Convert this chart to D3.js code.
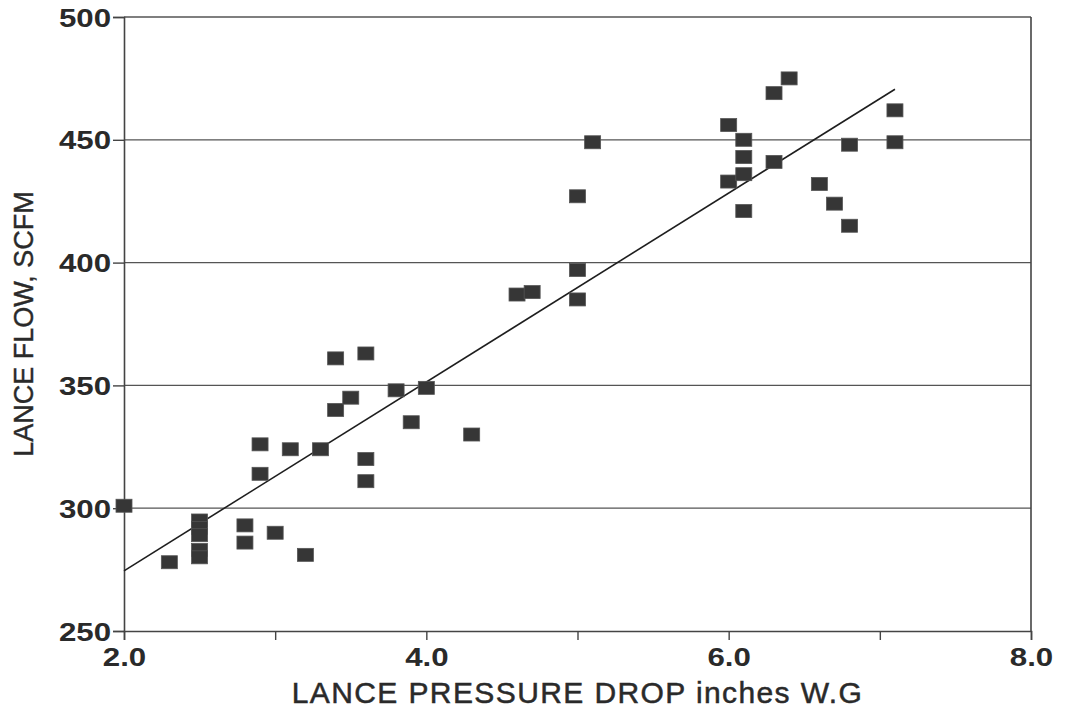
<!DOCTYPE html>
<html>
<head>
<meta charset="utf-8">
<script src="https://cdn.jsdelivr.net/npm/d3@7"></script>
<style>
  html, body { margin: 0; padding: 0; background: #fff; }
  svg { display: block; font-family: "Liberation Sans", Arial, sans-serif; }
</style>
</head>
<body>
<svg id="chart" width="1065" height="710"></svg>
<script>
// lance pressure drop (inches W.G) vs lance flow (SCFM)
const dropX = [2.0, 2.3, 2.5, 2.5, 2.5, 2.5, 2.5, 2.8, 2.8, 2.9, 2.9, 3.0, 3.1, 3.2, 3.3,
  3.4, 3.4, 3.5, 3.6, 3.6, 3.6, 3.8, 3.9, 4.0, 4.3, 4.6, 4.7, 5.0, 5.0, 5.0, 5.1,
  6.0, 6.0, 6.1, 6.1, 6.1, 6.1, 6.3, 6.3, 6.4, 6.6, 6.7, 6.8, 6.8, 7.1, 7.1];
const flowY = [301, 278, 295, 292, 289, 283, 280, 293, 286, 326, 314, 290, 324, 281, 324,
  361, 340, 345, 363, 320, 311, 348, 335, 349, 330, 387, 388, 427, 397, 385, 449,
  456, 433, 450, 443, 436, 421, 469, 441, 475, 432, 424, 448, 415, 462, 449];

// fitted line end points
const fitX = [2.0, 7.1];
const fitY = [274.5, 470.6];

const xTicks = [2, 3, 4, 5, 6, 7, 8];
const xLabelled = [2, 4, 6, 8];
const yTicks = [250, 300, 350, 400, 450, 500];

const pLeft = 124, pRight = 1031, pTop = 17, pBottom = 631;
const stretch = 1.25; // the scanned lettering is wide

const svg = d3.select("#chart");

const x = d3.scaleLinear().domain([2, 8]).range([pLeft, pRight]);
const y = d3.scaleLinear().domain([250, 500]).range([pBottom, pTop]);

/* ---- grid ---- */
svg.append("g")
  .selectAll("line")
  .data(yTicks.filter(d => d > 250))
  .join("line")
  .attr("x1", pLeft).attr("x2", pRight)
  .attr("y1", d => y(d)).attr("y2", d => y(d))
  .attr("stroke", "#555")
  .attr("stroke-width", 1.3);

// right border
svg.append("line")
  .attr("x1", pRight).attr("x2", pRight)
  .attr("y1", pTop).attr("y2", pBottom)
  .attr("stroke", "#444")
  .attr("stroke-width", 1.6);

/* ---- axes ---- */
const yAxis = svg.append("g")
  .attr("transform", `translate(${pLeft},0)`)
  .call(d3.axisLeft(y).tickValues(yTicks).tickSize(11).tickPadding(2).tickFormat(d3.format("d")));

const xAxis = svg.append("g")
  .attr("transform", `translate(0,${pBottom})`)
  .call(d3.axisBottom(x).tickValues(xTicks).tickSize(9).tickPadding(8)
    .tickFormat(d => xLabelled.includes(d) ? d3.format(".1f")(d) : ""));

[yAxis, xAxis].forEach(g => {
  g.select(".domain").attr("stroke", "#444").attr("stroke-width", 1.6);
  g.selectAll(".tick line").attr("stroke", "#444").attr("stroke-width", 1.4);
  g.selectAll(".tick text")
    .attr("fill", "#2a2a2a")
    .attr("transform", `scale(${stretch},1)`)
    .style("font-size", "25px")
    .style("font-weight", "bold")
    .style("font-family", "'Liberation Sans', Arial, sans-serif");
});
xAxis.selectAll(".tick text").attr("dy", "0.72em");
yAxis.selectAll(".tick text").attr("dy", "0.36em").attr("x", -13 / stretch);

/* ---- fit line ---- */
svg.append("line")
  .attr("x1", x(fitX[0])).attr("y1", y(fitY[0]))
  .attr("x2", x(fitX[1])).attr("y2", y(fitY[1]))
  .attr("stroke", "#1e1e1e")
  .attr("stroke-width", 1.6);

/* ---- points ---- */
const pts = dropX.map((d, i) => ({ x: d, y: flowY[i] }));
const mw = 16, mh = 13;
svg.append("g")
  .selectAll("rect")
  .data(pts)
  .join("rect")
  .attr("x", d => x(d.x) - mw / 2)
  .attr("y", d => y(d.y) - mh / 2)
  .attr("width", mw)
  .attr("height", mh)
  .attr("fill", "#363636")
  .attr("stroke", "#555")
  .attr("stroke-width", 0.8);

/* ---- titles ---- */
svg.append("text")
  .attr("x", (pLeft + pRight) / 2)
  .attr("y", 703)
  .attr("text-anchor", "middle")
  .attr("fill", "#2a2a2a")
  .attr("stroke", "#2a2a2a")
  .attr("stroke-width", 0.5)
  .style("font-size", "30px")
  .style("letter-spacing", "1.4px")
  .text("LANCE PRESSURE DROP inches W.G");

svg.append("text")
  .attr("transform", `translate(33,${(pTop + pBottom) / 2}) rotate(-90)`)
  .attr("text-anchor", "middle")
  .attr("fill", "#2a2a2a")
  .attr("stroke", "#2a2a2a")
  .attr("stroke-width", 0.4)
  .style("font-size", "27px")
  .text("LANCE FLOW, SCFM");
</script>
</body>
</html>
